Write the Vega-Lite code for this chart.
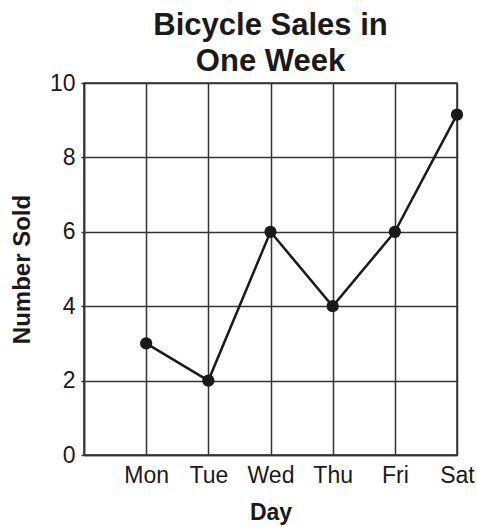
{
  "$schema": "https://vega.github.io/schema/vega-lite/v6.json",
  "width": 373,
  "height": 372,
  "autosize": "none",
  "padding": {"left": 84, "top": 83, "right": 20, "bottom": 72},
  "background": "white",
  "title": {
    "text": ["Bicycle Sales in", "One Week"],
    "font": "Liberation Sans",
    "fontSize": 31,
    "fontWeight": "bold",
    "color": "#1a1a1a",
    "lineHeight": 36,
    "anchor": "middle",
    "offset": -6
  },
  "data": {
    "values": [
      {"day": "Mon", "sold": 3},
      {"day": "Tue", "sold": 2},
      {"day": "Wed", "sold": 6},
      {"day": "Thu", "sold": 4},
      {"day": "Fri", "sold": 6},
      {"day": "Sat", "sold": 9.15}
    ]
  },
  "config": {
    "view": {"stroke": "#333333", "strokeWidth": 1.5},
    "axis": {
      "labelFont": "Liberation Sans",
      "titleFont": "Liberation Sans",
      "labelColor": "#1a1a1a",
      "titleColor": "#1a1a1a",
      "gridColor": "#333333",
      "gridOpacity": 1,
      "gridWidth": 1.5,
      "domainColor": "#333333",
      "domainWidth": 1.5,
      "tickColor": "#333333",
      "tickWidth": 1.5
    }
  },
  "encoding": {
    "x": {
      "field": "day",
      "type": "ordinal",
      "scale": {"type": "point", "domain": ["", "Mon", "Tue", "Wed", "Thu", "Fri", "Sat"], "padding": 0},
      "axis": {
        "title": "Day",
        "labelAngle": 0,
        "labelFontSize": 23,
        "labelPadding": 9,
        "tickSize": 0,
        "titleFontSize": 23,
        "titleFontWeight": "bold",
        "titlePadding": 14,
        "grid": true
      }
    },
    "y": {
      "field": "sold",
      "type": "quantitative",
      "scale": {"domain": [0, 10], "nice": false},
      "axis": {
        "title": "Number Sold",
        "values": [0, 2, 4, 6, 8, 10],
        "labelFontSize": 23,
        "labelPadding": 6,
        "tickSize": 3,
        "titleFontSize": 24,
        "titleFontWeight": "bold",
        "titlePadding": 15,
        "grid": true
      }
    }
  },
  "layer": [
    {"mark": {"type": "line", "color": "#1a1a1a", "strokeWidth": 2.5}},
    {"mark": {"type": "point", "filled": true, "color": "#1a1a1a", "opacity": 1, "size": 150}}
  ]
}
